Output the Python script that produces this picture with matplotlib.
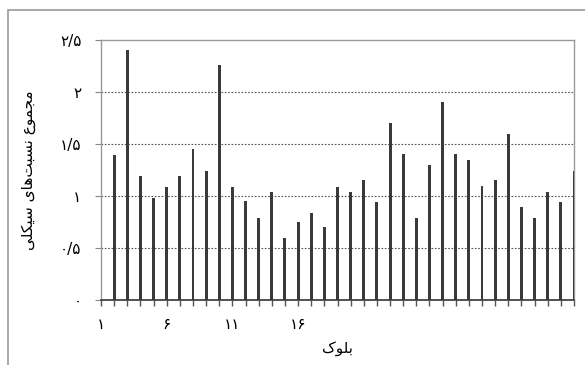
import matplotlib
matplotlib.use("Agg")
import matplotlib.pyplot as plt
from matplotlib.patches import Rectangle

# ---------------- data ----------------
blocks = list(range(1, 37))
values = [1.39, 2.40, 1.19, 0.98, 1.09, 1.19, 1.45, 1.24, 2.26, 1.09,
          0.95, 0.79, 1.04, 0.60, 0.75, 0.84, 0.70, 1.09, 1.04, 1.15,
          0.94, 1.70, 1.40, 0.79, 1.30, 1.90, 1.40, 1.35, 1.10, 1.15,
          1.60, 0.89, 0.79, 1.04, 0.94, 1.24]
xtick_pos = [0, 5, 10, 15]
xtick_labels = ["۱", "۶", "۱۱", "۱۶"]
ytick_vals = [0, 0.5, 1, 1.5, 2, 2.5]
ytick_labels = ["۰", "۰/۵", "۱", "۱/۵", "۲", "۲/۵"]
ylabel_text = "مجموع نسبت\u200cهای سیکلی"
xlabel_text = "بلوک"

# ---------- minimal Persian shaping (matplotlib has no complex text layout) ----------
FORMS = {  # isolated, final, initial, medial
    "ا": ("\uFE8D", "\uFE8E", None, None),
    "ب": ("\uFE8F", "\uFE90", "\uFE91", "\uFE92"),
    "ت": ("\uFE95", "\uFE96", "\uFE97", "\uFE98"),
    "ج": ("\uFE9D", "\uFE9E", "\uFE9F", "\uFEA0"),
    "س": ("\uFEB1", "\uFEB2", "\uFEB3", "\uFEB4"),
    "ع": ("\uFEC9", "\uFECA", "\uFECB", "\uFECC"),
    "ل": ("\uFEDD", "\uFEDE", "\uFEDF", "\uFEE0"),
    "م": ("\uFEE1", "\uFEE2", "\uFEE3", "\uFEE4"),
    "ن": ("\uFEE5", "\uFEE6", "\uFEE7", "\uFEE8"),
    "ه": ("\uFEE9", "\uFEEA", "\uFEEB", "\uFEEC"),
    "و": ("\uFEED", "\uFEEE", None, None),
    "ی": ("\uFBFC", "\uFBFD", "\uFBFE", "\uFBFF"),
    "ک": ("\uFB8E", "\uFB8F", "\uFB90", "\uFB91"),
}


def joins_next(ch):
    return ch in FORMS and FORMS[ch][2] is not None


def shape(text):
    out = []
    n = len(text)
    for i, ch in enumerate(text):
        if ch == "\u200c":
            continue
        if ch not in FORMS:
            out.append(ch)
            continue
        prev = text[i - 1] if i > 0 else ""
        nxt = text[i + 1] if i + 1 < n else ""
        jp = joins_next(prev)
        jn = joins_next(ch) and nxt in FORMS
        iso, fin, ini, med = FORMS[ch]
        if jp and jn:
            out.append(med)
        elif jp:
            out.append(fin)
        elif jn:
            out.append(ini)
        else:
            out.append(iso)
    return "".join(out)[::-1]


plt.rcParams["font.family"] = ["DejaVu Sans"]

fig = plt.figure(figsize=(5.85, 3.65), dpi=100)
fig.patch.set_facecolor("white")

# outer chart frame
fig.add_artist(Rectangle((8 / 585, -0.05), 1.2, 1.05 - 10 / 365,
                         transform=fig.transFigure, fill=False,
                         edgecolor="#9a9a9a", linewidth=1.2))

ax = fig.add_axes([101 / 585, 1 - 300 / 365, (574 - 101) / 585, 260 / 365])

ax.bar(blocks, values, width=0.22, color="#3a3a3a", zorder=3)

ax.set_xlim(0, 36)
ax.set_ylim(0, 2.5)

for y in [0.5, 1, 1.5, 2]:
    ax.axhline(y, color="#555555", linestyle=(0, (1.5, 1.5)), linewidth=0.8, zorder=1)

ax.set_yticks(ytick_vals)
ax.set_yticklabels(ytick_labels, fontsize=11)
ax.set_xticks(list(range(0, 37)), minor=True)
ax.set_xticks(xtick_pos)
ax.set_xticklabels(xtick_labels, fontsize=11)
ax.tick_params(axis="x", which="both", length=4, width=1, color="#555555", direction="out", pad=8)
ax.tick_params(axis="y", length=4, width=0.8, color="#888888", pad=10)

for side in ["top", "right", "left"]:
    ax.spines[side].set_color("#999999")
    ax.spines[side].set_linewidth(1.0)
ax.spines["bottom"].set_color("#4a4040")
ax.spines["bottom"].set_linewidth(1.3)

ax.set_ylabel(shape(ylabel_text), fontsize=11)
ax.yaxis.set_label_coords(-0.137, 0.5)
fig.text((101 + 574) / 2 / 585, 1 - 349 / 365, shape(xlabel_text), fontsize=11,
         ha="center", va="center")

fig.savefig("out.png", dpi=100)
